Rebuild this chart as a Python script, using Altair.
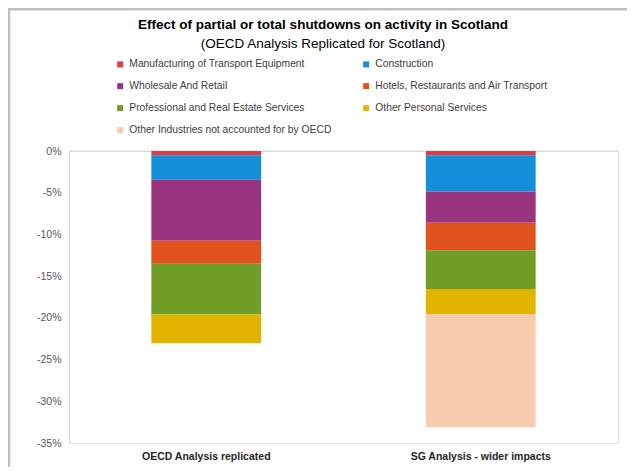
import altair as alt
import pandas as pd

# ---- data ----
title_text = "Effect of partial or total shutdowns on activity in Scotland"
subtitle_text = "(OECD Analysis Replicated for Scotland)"

categories = ["OECD Analysis replicated", "SG Analysis - wider impacts"]
sectors = [
    "Manufacturing of Transport Equipment",
    "Construction",
    "Wholesale And Retail",
    "Hotels, Restaurants and Air Transport",
    "Professional  and Real Estate Services",
    "Other Personal Services",
    "Other Industries not accounted for by OECD",
]
colors = ["#E63946", "#138FD9", "#993480", "#E0531F", "#709E27", "#E1B400", "#F7CBAD"]

# percentage-point contributions (negative = loss in activity)
oecd_values = [-0.5, -2.95, -7.3, -2.75, -6.1, -3.45, 0.0]
sg_values = [-0.5, -4.35, -3.75, -3.3, -4.65, -3.0, -13.55]

y_ticks = [0, -5, -10, -15, -20, -25, -30, -35]

rows = []
for cat, vals in zip(categories, [oecd_values, sg_values]):
    for i, (s, v) in enumerate(zip(sectors, vals)):
        rows.append({"category": cat, "sector": s, "value": v, "order": i})
df = pd.DataFrame(rows)

FONT = "Liberation Sans"
one = alt.Data(values=[{"k": 0}])

bars = alt.Chart(df).mark_bar().encode(
    x=alt.X(
        "category:N",
        sort=categories,
        scale=alt.Scale(paddingInner=0.6, paddingOuter=0.3),
        axis=alt.Axis(
            title=None, labelAngle=0, domain=False, ticks=False,
            labelFontWeight="bold", labelFontSize=10.5, labelColor="#262626",
            labelPadding=8, labelFont=FONT,
        ),
    ),
    y=alt.Y(
        "value:Q",
        stack="zero",
        scale=alt.Scale(domain=[-35, 0], nice=False),
        axis=alt.Axis(
            title=None, values=y_ticks, labelExpr="datum.value + '%'",
            ticks=False, domainColor="#d9d9d9", gridColor="#d9d9d9",
            gridDash=[2, 2], labelColor="#595959", labelFontSize=10.5,
            labelPadding=8, labelFont=FONT,
        ),
    ),
    color=alt.Color(
        "sector:N",
        sort=sectors,
        scale=alt.Scale(domain=sectors, range=colors),
        legend=alt.Legend(
            title=None, orient="none", legendX=46, legendY=-92,
            direction="horizontal", columns=2, columnPadding=29, rowPadding=11,
            symbolType="square", symbolSize=36, symbolStrokeWidth=0,
            symbolOpacity=1, labelFontSize=10.3, labelFont=FONT,
            labelColor="#404040", labelLimit=0, labelOffset=4,
        ),
    ),
    order=alt.Order("order:Q", sort="ascending"),
)

zero_line = alt.Chart(one).mark_rule(color="#d9d9d9", strokeWidth=1).encode(
    y=alt.datum(0)
)

frame_left = alt.Chart(one).mark_rule(color="#bfbfbf", strokeWidth=2.5).encode(
    x=alt.value(-60), y=alt.value(-142), y2=alt.value(320)
)
frame_top = alt.Chart(one).mark_rule(color="#bfbfbf", strokeWidth=2.5).encode(
    x=alt.value(-61.25), x2=alt.value(570), y=alt.value(-141.75)
)

title = alt.Chart(one).mark_text(
    text=title_text, font=FONT, fontSize=13.5, fontWeight="bold",
    color="#000000", align="center", baseline="middle",
).encode(x=alt.value(254), y=alt.value(-126))

subtitle = alt.Chart(one).mark_text(
    text=subtitle_text, font=FONT, fontSize=13.5,
    color="#000000", align="center", baseline="middle",
).encode(x=alt.value(254), y=alt.value(-107.5))

chart = (
    alt.layer(frame_left, frame_top, zero_line, bars, title, subtitle)
    .properties(
        width=549,
        height=292,
        autosize=alt.AutoSizeParams(type="none"),
        padding={"left": 61, "top": 143, "right": 9, "bottom": 24},
    )
    .configure_view(stroke=None)
    .configure(font=FONT)
)

chart.save("out.html", embed_options={"renderer": "svg", "actions": False})
